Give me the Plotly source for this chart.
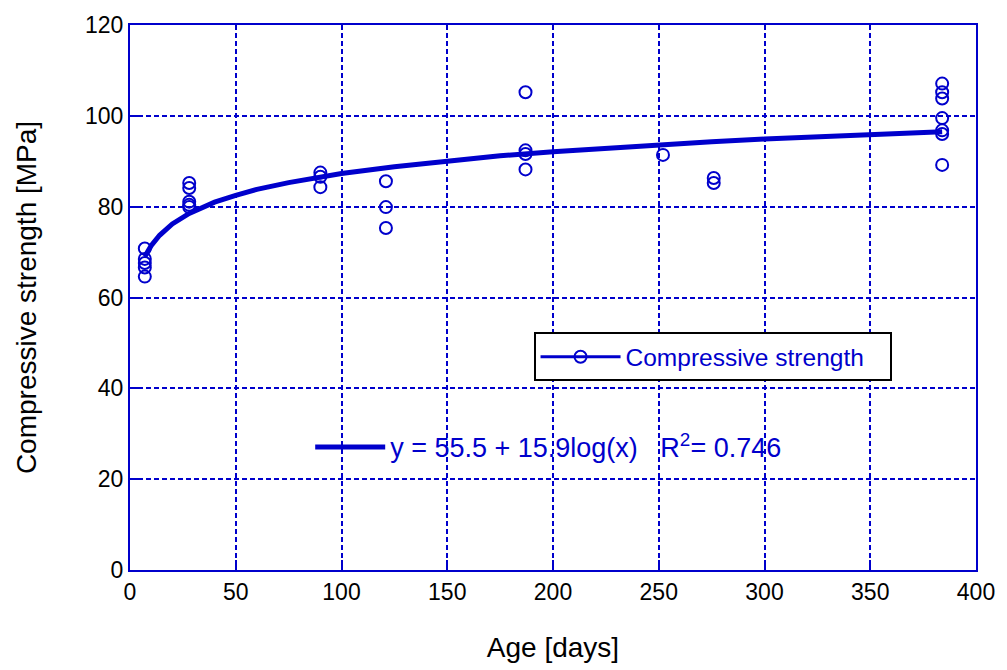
import plotly.graph_objects as go

# ---- data ----
age_days = [7, 7, 7, 7, 7,
            28, 28, 28, 28, 28,
            90, 90, 90,
            121, 121, 121,
            187, 187, 187, 187,
            252,
            276, 276,
            384, 384, 384, 384, 384, 384, 384]
strength_mpa = [70.8, 68.5, 67.6, 66.6, 64.6,
                85.2, 84.1, 81.1, 80.4, 79.9,
                87.5, 86.6, 84.3,
                85.6, 79.9, 75.3,
                105.2, 92.4, 91.6, 88.2,
                91.4,
                86.3, 85.2,
                107.1, 105.2, 103.8, 99.5, 96.8, 96.0, 89.2]

fit_x = [7, 10, 14, 20, 28, 40, 50, 60, 75, 90, 100, 125, 150, 175, 200,
         225, 250, 275, 300, 325, 350, 384]
fit_y = [69.0, 71.4, 73.7, 76.2, 78.5, 81.0, 82.5, 83.8, 85.3, 86.6, 87.3,
         88.8, 90.1, 91.2, 92.1, 92.9, 93.6, 94.3, 94.9, 95.4, 95.9, 96.5]

x_ticks = [0, 50, 100, 150, 200, 250, 300, 350, 400]
y_ticks = [0, 20, 40, 60, 80, 100, 120]

BLUE = "#0000CC"
FONT = "Liberation Sans, Arial, sans-serif"

fig = go.Figure()

# measured points (markers only)
fig.add_trace(go.Scatter(
    x=age_days, y=strength_mpa, mode="markers",
    marker=dict(symbol="circle-open", size=12, color=BLUE, line=dict(width=2, color=BLUE)),
    name="Compressive strength", showlegend=False,
))

# legend entry drawn as line + marker (as in the reference legend)
fig.add_trace(go.Scatter(
    x=[None], y=[None], mode="lines+markers",
    line=dict(color=BLUE, width=3),
    marker=dict(symbol="circle-open", size=12, color=BLUE, line=dict(width=2, color=BLUE)),
    name="Compressive strength\u00a0\u00a0\u00a0", showlegend=True, legend="legend",
))

# fitted curve
fig.add_trace(go.Scatter(
    x=fit_x, y=fit_y, mode="lines",
    line=dict(color=BLUE, width=5),
    name="y\u00a0=\u00a055.5\u00a0+\u00a015.9log(x)\u00a0\u00a0\u00a0R<sup>2</sup>=\u00a00.746",
    showlegend=True, legend="legend2",
))

axis_common = dict(
    showline=True, linecolor=BLUE, linewidth=2, mirror=True,
    showgrid=True, gridcolor=BLUE, gridwidth=1.5, griddash="5px,3px",
    zeroline=False,
    ticks="inside", ticklen=10, tickcolor=BLUE, tickwidth=2,
    tickfont=dict(family=FONT, size=23, color="black"),
)

fig.update_xaxes(
    range=[0, 400], tickmode="array", tickvals=x_ticks,
    title=dict(text="Age [days]", font=dict(family=FONT, size=28, color="black"), standoff=34),
    **axis_common,
)
fig.update_yaxes(
    range=[0, 120], tickmode="array", tickvals=y_ticks,
    title=dict(text="Compressive strength [MPa]", font=dict(family=FONT, size=28, color="black"), standoff=40),
    **axis_common,
)

fig.update_layout(
    width=1007, height=670,
    margin=dict(l=130, r=22, t=19, b=97),
    plot_bgcolor="white", paper_bgcolor="white",
    font=dict(family=FONT),
    showlegend=True,
    legend=dict(
        x=0.477, y=0.436, xanchor="left", yanchor="top",
        bgcolor="white", bordercolor="black", borderwidth=2,
        font=dict(family=FONT, size=24.5, color=BLUE),
        itemwidth=80,
    ),
    legend2=dict(
        x=0.213, y=0.27, xanchor="left", yanchor="top",
        bgcolor="rgba(0,0,0,0)", borderwidth=0,
        font=dict(family=FONT, size=27, color=BLUE),
        itemwidth=70,
    ),
)

fig.write_html("out.html")
